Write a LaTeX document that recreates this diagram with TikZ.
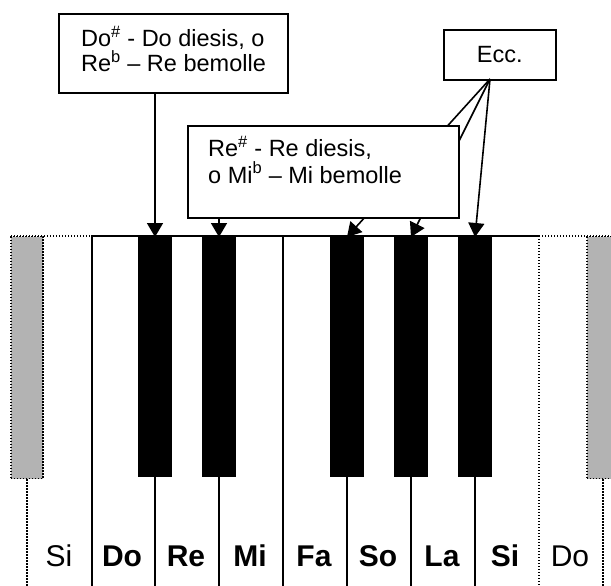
\documentclass[tikz,border=0pt]{standalone}
\usepackage{fontspec}
\setmainfont{Liberation Sans}
\usetikzlibrary{arrows.meta,calc}
\definecolor{keygray}{HTML}{B3B3B3}
\begin{document}
\begin{tikzpicture}[x=1pt,y=-1pt,
  notebox/.style={draw, line width=1.6pt, fill=white, inner sep=0pt, anchor=north west},
  notetext/.style={font=\fontsize{23.5}{25}\selectfont, inner sep=0pt, anchor=base west},
  blackkey/.style={fill=black, draw=none, inner sep=0pt, minimum width=34pt, minimum height=240pt, anchor=north},
  graykey/.style={fill=keygray, draw, line width=1.4pt, dash pattern=on 1.4pt off 1.6pt, inner sep=0pt, minimum width=32pt, minimum height=242pt, anchor=north},
  keyline/.style={line width=1.8pt},
  dotline/.style={line width=1.4pt, dash pattern=on 1.4pt off 1.6pt},
  arr/.style={line width=1.6pt, -{Triangle[width=16pt,length=14pt]}},
  keylabel/.style={font=\fontsize{30}{32}\selectfont, inner sep=0pt, anchor=base}]
\useasboundingbox (0,0) rectangle (611,586);
\clip (0,0) rectangle (611,586);
\coordinate (bot) at (0,586);

% white keys: top edge and separators
\draw[dotline] (11,236) -- (91,236);
\draw[dotline] (539,236) -- (611,236);
\draw[keyline] (91,236) -- (539,236);
\draw[keyline] (92,236) -- (92,586);
\draw[keyline] (283,236) -- (283,586);
\draw[dotline] (539,236) -- (539,586);

% partial grey keys at both ends
\node[graykey] (gl) at (27,236) {};
\node[graykey] (gr) at (603,236) {};
\draw[dotline] (gl.south) -- (gl.south |- bot);
\draw[dotline] (gr.south) -- (gr.south |- bot);

% black keys
\node[blackkey] (k1) at (155,237) {};
\node[blackkey] (k2) at (219,237) {};
\node[blackkey] (k3) at (347,237) {};
\node[blackkey] (k4) at (411,237) {};
\node[blackkey] (k5) at (475,237) {};
\foreach \k in {k1,k2,k3,k4,k5}
  \draw[keyline] (\k.south) -- (\k.south |- bot);

% note names
\node[keylabel] (n1) at (59,566) {Si};
\node[keylabel] (n2) at (122,566) {\bfseries Do};
\node[keylabel] (n3) at (186,566) {\bfseries Re};
\node[keylabel] (n4) at (250,566) {\bfseries Mi};
\node[keylabel] (n5) at (314,566) {\bfseries Fa};
\node[keylabel] (n6) at (378,566) {\bfseries So};
\node[keylabel] (n7) at (442,566) {\bfseries La};
\node[keylabel] (n8) at (505,566) {\bfseries Si};
\node[keylabel] (n9) at (570,566) {Do};

% "Ecc." box and its arrows (passing behind the second box)
\node[notebox, minimum width=112pt, minimum height=50pt] (ecc) at (443,29) {};
\node[font=\fontsize{23.5}{25}\selectfont, inner sep=0pt] (ecct) at (ecc.center) {Ecc.};
\coordinate (efoot) at (490,79);
\draw[arr] (efoot) -- (k3.north);
\draw[arr] (efoot) -- (k4.north);
\draw[arr] (efoot) -- (k5.north);

% first box
\node[notebox, minimum width=229pt, minimum height=79pt] (b1) at (58,13) {};
\node[notetext] (b1a) at (81,47) {Do\textsuperscript{\#} - Do diesis, o};
\node[notetext] (b1b) at (81,72) {Re\textsuperscript{b} – Re bemolle};
\draw[arr] (b1.south -| k1.north) -- (k1.north);

% second box
\node[notebox, minimum width=271pt, minimum height=92pt] (b2) at (187,125) {};
\node[notetext] (b2a) at (208,157) {Re\textsuperscript{\#} - Re diesis,};
\node[notetext] (b2b) at (208,183) {o Mi\textsuperscript{b} – Mi bemolle};
\draw[arr] (b2.south -| k2.north) -- (k2.north);
\end{tikzpicture}
\end{document}
